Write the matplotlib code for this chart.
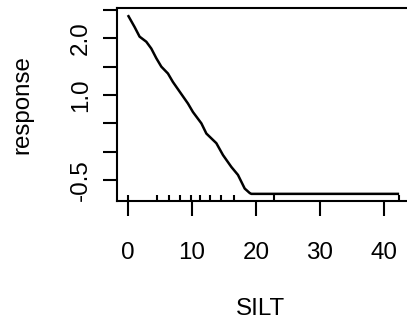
import matplotlib
matplotlib.use("Agg")
import matplotlib.pyplot as plt

# Partial dependence of response on SILT
silt = [0.0, 1.05, 1.83, 2.88, 3.66, 4.44, 5.23, 6.26, 7.04, 8.09, 9.39, 10.17,
        11.49, 12.27, 13.83, 14.87, 16.18, 17.21, 18.26, 19.05, 19.3, 42.4]
response = [2.41, 2.20, 2.03, 1.94, 1.82, 1.65, 1.50, 1.38, 1.23, 1.06, 0.85, 0.70,
            0.50, 0.32, 0.15, -0.06, -0.27, -0.41, -0.65, -0.73, -0.744, -0.744]
# decile rug of SILT
rug = [0.0, 4.6, 6.5, 8.1, 9.8, 11.3, 12.8, 14.5, 16.6, 22.8, 42.4]

xticks = [0, 10, 20, 30, 40]
yticks = [-0.5, 0.0, 0.5, 1.0, 1.5, 2.0, 2.5]
ytick_labels = ["-0.5", "", "", "1.0", "", "2.0", ""]

plt.rcParams['font.family'] = ['Liberation Sans', 'DejaVu Sans']
FS = 17.4

W, H = 407, 323
fig = plt.figure(figsize=(W / 100, H / 100), dpi=100)
l, r, t, b = 117.0, 410.0, 8.3, 201.0
ax = fig.add_axes([l / W, 1 - b / H, (r - l) / W, (b - t) / H])

ax.plot(silt, response, color='black', lw=1.8, solid_joinstyle='round',
        solid_capstyle='butt')
ax.vlines(rug, 0, 0.031, transform=ax.get_xaxis_transform(), color='black', lw=1.5)

ax.set_xlim(-1.70, 44.1)
ax.set_ylim(-0.870, 2.53)

ax.set_xticks(xticks)
ax.set_xticklabels([str(v) for v in xticks])
ax.set_yticks(yticks)
ax.set_yticklabels(ytick_labels)

for s in ['left', 'top', 'bottom', 'right']:
    ax.spines[s].set_linewidth(1.5)

ax.tick_params(axis='x', length=10.6, width=1.5, labelsize=FS, pad=19.0, direction='out')
ax.tick_params(axis='y', length=10.4, width=1.5, labelsize=FS, pad=7.8, direction='out',
               labelrotation=90)
for lab in ax.get_yticklabels():
    lab.set_verticalalignment('center')

ax.set_xlabel('SILT', fontsize=FS)
ax.set_ylabel('response', fontsize=FS)
ax.xaxis.set_label_coords(0.491, -0.505)
ax.yaxis.set_label_coords(-0.2857, 0.5)

fig.savefig('out.png', dpi=100)
